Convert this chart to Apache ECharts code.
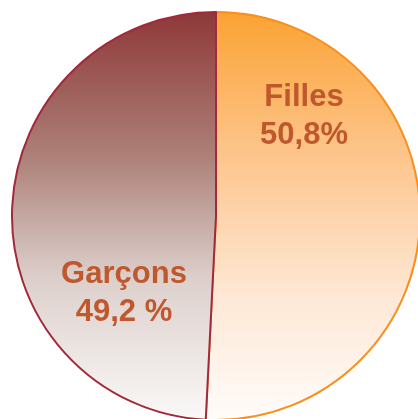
<!DOCTYPE html>
<html>
<head>
<meta charset="utf-8">
<script src="https://cdn.jsdelivr.net/npm/echarts@6/dist/echarts.min.js"></script>
<style>html,body{margin:0;padding:0;background:#fff;}#c{width:418px;height:419px;}</style>
</head>
<body>
<div id="c"></div>
<script>
const categories = ["Filles", "Garçons"];
const values = [50.8, 49.2];
const valueLabels = ["50,8%", "49,2 %"];

const fills = [
  new echarts.graphic.LinearGradient(0, 0, 0, 1, [
    {offset: 0, color: '#FBA232'},
    {offset: 0.35, color: '#FDC58C'},
    {offset: 0.7, color: '#FEE8D6'},
    {offset: 1, color: '#FFFCFA'}
  ]),
  new echarts.graphic.LinearGradient(0, 0, 0, 1, [
    {offset: 0, color: '#8E3838'},
    {offset: 0.35, color: '#AC7F77'},
    {offset: 0.65, color: '#DCCFCB'},
    {offset: 1, color: '#FAF9F8'}
  ])
];
const borders = ['#F7901E', '#A3293A'];

const chart = echarts.init(document.getElementById('c'), null, {renderer: 'canvas'});
chart.setOption({
  backgroundColor: '#ffffff',
  animation: false,
  series: [{
    type: 'pie',
    center: [216, 216],
    radius: 204,
    startAngle: 90,
    clockwise: true,
    label: {show: false},
    labelLine: {show: false},
    emphasis: {disabled: true},
    data: categories.map((c, i) => ({
      name: c,
      value: values[i],
      itemStyle: {color: fills[i], borderColor: borders[i], borderWidth: 2}
    }))
  }],
  graphic: [
    {type: 'text', x: 304, y: 78, z: 10, style: {
      text: categories[0] + '\n' + valueLabels[0], textAlign: 'center', textVerticalAlign: 'top',
      font: 'bold 31px "Liberation Sans", Arial, sans-serif', lineHeight: 38, fill: '#C0582E'
    }},
    {type: 'text', x: 124, y: 255, z: 10, style: {
      text: categories[1] + '\n' + valueLabels[1], textAlign: 'center', textVerticalAlign: 'top',
      font: 'bold 31px "Liberation Sans", Arial, sans-serif', lineHeight: 38, fill: '#C0582E'
    }}
  ]
});
</script>
</body>
</html>
